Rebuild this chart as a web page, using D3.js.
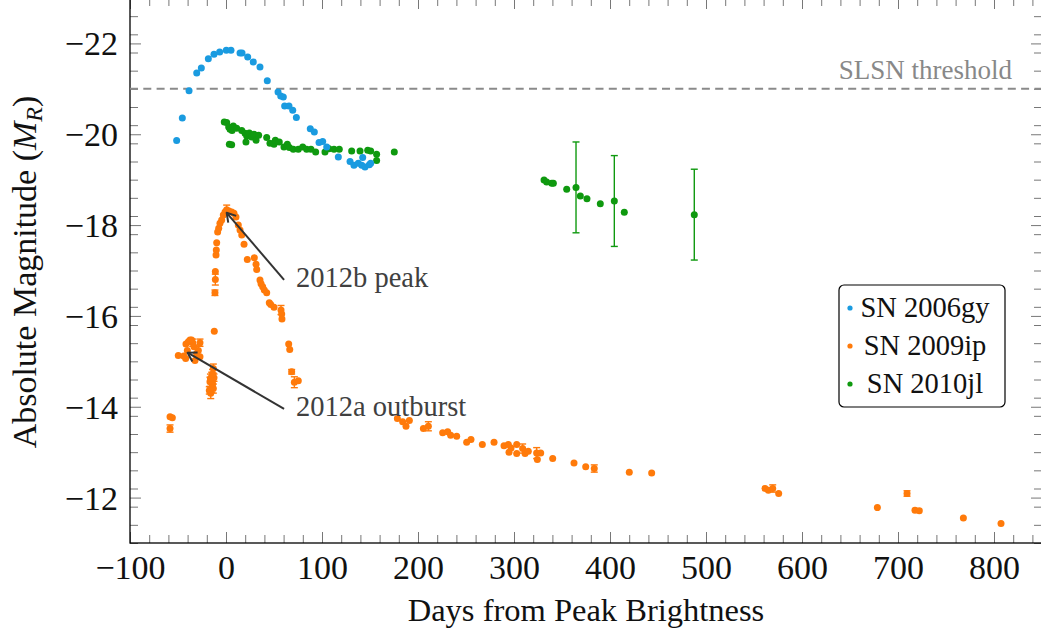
<!DOCTYPE html>
<html>
<head>
<meta charset="utf-8">
<script src="https://cdn.jsdelivr.net/npm/d3@7"></script>
<style>
  html, body { margin: 0; padding: 0; background: #fff; }
  svg { display: block; font-family: "Liberation Serif", serif; }
</style>
</head>
<body>
<svg id="chart" width="1041" height="634"></svg>
<script>
// SN 2006gy light curve (days from peak, absolute R magnitude)
const gyDays = [-51.4, -45.5, -38.5, -30.5, -25.7, -18.4, -12.5, -6.6, 0.3, 5.2, 14.6, 16.7, 22.6, 28.4, 35.4,
  43.0, 54.2, 57.0, 59.7, 61.1, 65.6, 69.5, 73.3, 87.8, 92.0, 96.9, 100.7, 104.9, 117.0, 129.2, 133.3,
  137.8, 141.4, 142.4, 144.8, 149.3, 150.7];
const gyMag = [-19.86, -20.36, -20.96, -21.35, -21.46, -21.66, -21.76, -21.81, -21.85, -21.85, -21.79, -21.79,
  -21.70, -21.59, -21.48, -21.18, -20.93, -20.84, -20.82, -20.62, -20.62, -20.53, -20.37, -20.12, -20.05,
  -19.82, -19.84, -19.72, -19.50, -19.40, -19.32, -19.36, -19.32, -19.49, -19.28, -19.33, -19.36];

// SN 2009ip light curve, with 1-sigma errors (0 = no bar drawn)
const ipDays = [-58.3, -55.9, -58.3,
  -49.7, -42.0, -41.7, -39.2, -35.8, -34.7, -40.3, -32.3, -28.8, -27.1, -30.6, -27.1, -33.3, -37.5, -44.0,
  -13.2, -14.9, -12.5, -16.7, -13.9, -14.9, -17.4, -15.9, -13.2, -16.2, -14.0,
  -12.2, -11.5, -11.1, -11.1, -10.4, -10.1, -9.7, -8.7, -7.6, -6.3, -4.5, -2.8, -1.0, 0.7, 3.1, 5.9, 8.3,
  10.4, 12.8, 14.6, 16.4, 18.8, 22.2, 29.5, 31.3, 32.0, 35.4, 36.5, 38.2, 39.9, 42.4, 45.1, 46.6, 50.0,
  57.3, 58.0, 58.3, 65.3, 66.4, 68.4, 71.2, 75.3,
  178.5, 184.0, 187.5, 191.0, 205.6, 210.8, 225.7, 230.9, 234.0, 240.3, 250.7, 255.2, 267.0, 279.2, 289.6,
  294.1, 296.9, 294.8, 302.8, 302.8, 309.0, 311.5, 314.9, 323.6, 327.8, 324.3, 340.3, 362.5, 374.7, 383.6,
  420.1, 443.4, 561.5, 565.0, 569.5, 575.7, 678.5, 709.4, 717.7, 722.2, 768.1, 807.3];
const ipMag = [-13.78, -13.76, -13.52,
  -15.13, -15.06, -15.38, -15.43, -15.47, -15.41, -15.24, -15.02, -15.24, -15.41, -15.17, -15.10, -15.32, -15.47, -15.12,
  -14.84, -14.66, -14.64, -14.55, -14.50, -14.42, -14.36, -14.30, -14.40, -14.62, -14.72,
  -15.66, -16.51, -16.80, -16.98, -17.34, -17.45, -17.61, -17.85, -17.93, -18.04, -18.11, -18.22, -18.29,
  -18.34, -18.31, -18.29, -18.26, -18.18, -18.00, -17.89, -17.78, -17.58, -17.24, -17.28, -17.14, -17.02,
  -16.79, -16.71, -16.64, -16.57, -16.51, -16.29, -16.25, -16.19, -16.13, -16.04, -15.93, -15.38, -15.26,
  -14.77, -14.54, -14.57,
  -13.74, -13.67, -13.57, -13.70, -13.52, -13.57, -13.43, -13.45, -13.37, -13.35, -13.22, -13.28, -13.17,
  -13.22, -13.14, -13.17, -13.09, -13.00, -13.17, -12.97, -13.08, -12.97, -13.02, -12.98, -12.98, -12.84,
  -12.86, -12.76, -12.68, -12.64, -12.56, -12.54, -12.20, -12.16, -12.20, -12.09, -11.78, -12.09, -11.72,
  -11.71, -11.55, -11.43];
const ipErr = [0, 0, 0.08,
  0, 0, 0, 0, 0, 0.08, 0, 0, 0.1, 0.08, 0, 0, 0, 0, 0,
  0.1, 0.1, 0.08, 0.1, 0.1, 0.1, 0.08, 0.12, 0.1, 0.1, 0.1,
  0, 0.06, 0.12, 0, 0, 0, 0, 0, 0, 0, 0, 0, 0, 0.1, 0, 0, 0, 0, 0, 0, 0, 0, 0, 0, 0, 0, 0, 0, 0, 0, 0, 0,
  0, 0, 0.1, 0, 0, 0, 0, 0.05, 0.12, 0,
  0, 0, 0, 0, 0, 0.1, 0, 0, 0, 0, 0, 0, 0, 0, 0, 0, 0, 0, 0, 0, 0.1, 0, 0, 0.12, 0, 0, 0, 0, 0, 0.08,
  0, 0, 0, 0, 0.08, 0, 0, 0.06, 0, 0, 0, 0];

// SN 2010jl light curve, with errors on the late epochs
const jlDays = [-1.8, 0.7, 2.8, 4.2, 7.6, 6.3, 11.1, 16.4, 19.8, 21.6, 24.3, 26.8, 29.2, 31.3, 34.0, 3.5, 5.9,
  20.8, 42.4, 45.8, 50.0, 51.4, 55.5, 60.4, 63.9, 66.0, 70.1, 75.3, 79.9, 84.0, 88.5, 93.4, 103.1, 107.3,
  112.5, 118.0, 130.9, 139.6, 147.6, 150.7, 156.9, 156.9, 175.3,
  331.3, 334.0, 339.3, 341.0, 354.9, 364.6, 369.1, 376.0, 389.9, 404.5, 414.9, 487.8];
const jlMag = [-20.27, -20.26, -20.16, -20.11, -20.18, -20.08, -20.13, -20.08, -20.02, -19.96, -20.03, -19.94,
  -20.00, -19.87, -19.98, -19.78, -19.77, -19.83, -19.93, -19.80, -19.78, -19.87, -19.83, -19.72, -19.78,
  -19.71, -19.67, -19.67, -19.72, -19.67, -19.67, -19.61, -19.61, -19.68, -19.67, -19.67, -19.63, -19.63,
  -19.65, -19.63, -19.56, -19.42, -19.61,
  -18.99, -18.95, -18.92, -18.92, -18.79, -18.83, -18.64, -18.58, -18.47, -18.53, -18.28, -18.23];
const jlErr = [0, 0, 0, 0, 0, 0, 0, 0, 0, 0, 0, 0, 0, 0, 0, 0, 0, 0, 0, 0, 0, 0, 0, 0, 0, 0, 0, 0, 0, 0, 0,
  0, 0, 0, 0, 0, 0, 0, 0, 0, 0, 0, 0,
  0, 0, 0, 0, 0, 1.0, 0, 0, 0, 1.0, 0, 1.0];

// Series names, colours and axis ticks
const seriesNames = ["SN 2006gy", "SN 2009ip", "SN 2010jl"];
const seriesColors = ["#1a9be0", "#ff7a0a", "#0f990f"];
const xMajorTicks = [-100, 0, 100, 200, 300, 400, 500, 600, 700, 800];
const yMajorTicks = [-22, -20, -18, -16, -14, -12];
const slslThreshold = -21;
const thresholdLabel = "SLSN threshold";
const annotations = [
  { text: "2012b peak", day: 0.7, mag: -18.27, textDay: 73, textMag: -16.64 },
  { text: "2012a outburst", day: -40, mag: -15.19, textDay: 73, textMag: -13.8 }
];

const svg = d3.select("#chart");
const x = d3.scaleLinear().domain([-100, 850]).range([130, 1042]);
const y = d3.scaleLinear().domain([-23, -11]).range([-2, 543]);
const [x0, x1] = x.range();
const [y0, y1] = y.range();

const fmt = d3.format("d");
const xMinor = d3.range(-100, 851, 20).filter(v => v % 100 !== 0);
const yMinor = d3.range(-23, -10.99, 0.4).map(v => +v.toFixed(1)).filter(v => Math.abs(v % 2) > 1e-6);

// Grey-ish inward ticks on all four sides
function styleTicks(g) {
  g.select(".domain").remove();
  g.selectAll(".tick line").attr("stroke", "#777").attr("stroke-width", 1);
}
// bottom
svg.append("g").attr("transform", `translate(0,${y1})`)
  .call(d3.axisBottom(x).tickValues(xMinor).tickSize(-8).tickFormat(""))
  .call(styleTicks);
const xAx = svg.append("g").attr("transform", `translate(0,${y1})`)
  .call(d3.axisBottom(x).tickValues(xMajorTicks).tickSize(-11).tickFormat(fmt))
  .call(styleTicks);
xAx.selectAll("text").attr("y", 36).attr("dy", null)
  .attr("font-size", 34).attr("fill", "#111").attr("font-family", "Liberation Serif");
// top
svg.append("g").attr("transform", `translate(0,${y0})`)
  .call(d3.axisTop(x).tickValues(xMinor).tickSize(-8).tickFormat(""))
  .call(styleTicks);
svg.append("g").attr("transform", `translate(0,${y0})`)
  .call(d3.axisTop(x).tickValues(xMajorTicks).tickSize(-11).tickFormat(""))
  .call(styleTicks);
// left
svg.append("g").attr("transform", `translate(${x0},0)`)
  .call(d3.axisLeft(y).tickValues(yMinor).tickSize(-8).tickFormat(""))
  .call(styleTicks);
const yAx = svg.append("g").attr("transform", `translate(${x0},0)`)
  .call(d3.axisLeft(y).tickValues(yMajorTicks).tickSize(-11).tickFormat(fmt))
  .call(styleTicks);
yAx.selectAll("text").attr("x", -12).attr("dy", "0.34em")
  .attr("font-size", 34).attr("fill", "#111").attr("font-family", "Liberation Serif");
// right
svg.append("g").attr("transform", `translate(${x1},0)`)
  .call(d3.axisRight(y).tickValues(yMinor).tickSize(-8).tickFormat(""))
  .call(styleTicks);
svg.append("g").attr("transform", `translate(${x1},0)`)
  .call(d3.axisRight(y).tickValues(yMajorTicks).tickSize(-11).tickFormat(""))
  .call(styleTicks);

// frame
svg.append("rect").attr("x", x0).attr("y", y0).attr("width", x1 - x0).attr("height", y1 - y0)
  .attr("fill", "none").attr("stroke", "#000").attr("stroke-width", 1.3);

// axis titles
svg.append("text").attr("x", 586).attr("y", 621).attr("text-anchor", "middle")
  .attr("font-size", 32.5).attr("fill", "#111").text("Days from Peak Brightness");
const yt = svg.append("text").attr("transform", "translate(36,272) rotate(-90)")
  .attr("text-anchor", "middle").attr("font-size", 34).attr("fill", "#111");
yt.append("tspan").text("Absolute Magnitude (");
yt.append("tspan").attr("font-style", "italic").text("M");
yt.append("tspan").attr("font-style", "italic").attr("font-size", 24).attr("dy", 6).text("R");
yt.append("tspan").attr("dy", -6).text(")");

// SLSN threshold
svg.append("line").attr("x1", x0).attr("x2", x1).attr("y1", y(slslThreshold)).attr("y2", y(slslThreshold))
  .attr("stroke", "#8a8a8a").attr("stroke-width", 2).attr("stroke-dasharray", "8,5.3");
svg.append("text").attr("x", 1012).attr("y", y(slslThreshold) - 10).attr("text-anchor", "end")
  .attr("font-size", 27).attr("fill", "#888").text(thresholdLabel);

const plot = svg.append("g");

function drawSeries(days, mags, errs, color) {
  const pts = days.map((d, i) => ({ d, m: mags[i], e: errs ? errs[i] : 0 }));
  const eb = pts.filter(p => p.e > 0);
  const g = plot.append("g");
  const bars = g.selectAll("g.err").data(eb).join("g").attr("class", "err")
    .attr("stroke", color).attr("stroke-width", 1.4);
  bars.append("line").attr("x1", p => x(p.d)).attr("x2", p => x(p.d))
    .attr("y1", p => y(p.m - p.e)).attr("y2", p => y(p.m + p.e));
  bars.append("line").attr("x1", p => x(p.d) - 3.5).attr("x2", p => x(p.d) + 3.5)
    .attr("y1", p => y(p.m - p.e)).attr("y2", p => y(p.m - p.e));
  bars.append("line").attr("x1", p => x(p.d) - 3.5).attr("x2", p => x(p.d) + 3.5)
    .attr("y1", p => y(p.m + p.e)).attr("y2", p => y(p.m + p.e));
  g.selectAll("circle").data(pts).join("circle")
    .attr("cx", p => x(p.d)).attr("cy", p => y(p.m)).attr("r", 3.5).attr("fill", color);
}
drawSeries(jlDays, jlMag, jlErr, seriesColors[2]);
drawSeries(gyDays, gyMag, null, seriesColors[0]);
drawSeries(ipDays, ipMag, ipErr, seriesColors[1]);

// annotations with open arrowheads
annotations.forEach(a => {
  const tx = x(a.textDay), ty = y(a.textMag);
  const sx = tx - 12, sy = ty - 7;
  const ex = x(a.day), ey = y(a.mag);
  const ang = Math.atan2(ey - sy, ex - sx);
  const L = 10, w = 0.55;
  svg.append("line").attr("x1", sx).attr("y1", sy).attr("x2", ex).attr("y2", ey)
    .attr("stroke", "#333").attr("stroke-width", 2);
  svg.append("path")
    .attr("d", `M${ex - L * Math.cos(ang - w)},${ey - L * Math.sin(ang - w)} L${ex},${ey} L${ex - L * Math.cos(ang + w)},${ey - L * Math.sin(ang + w)}`)
    .attr("fill", "none").attr("stroke", "#333").attr("stroke-width", 2).attr("stroke-linejoin", "round");
  svg.append("text").attr("x", tx).attr("y", ty).attr("font-size", 28.5).attr("fill", "#404040").text(a.text);
});

// legend
const lg = svg.append("g");
lg.append("rect").attr("x", 839).attr("y", 285).attr("width", 166).attr("height", 122).attr("rx", 5)
  .attr("fill", "#fff").attr("stroke", "#000").attr("stroke-width", 1.2);
seriesNames.forEach((n, i) => {
  const cy = 308 + i * 38;
  lg.append("circle").attr("cx", 850).attr("cy", cy).attr("r", 2.6).attr("fill", seriesColors[i]);
  lg.append("text").attr("x", 925).attr("y", cy + 9).attr("text-anchor", "middle")
    .attr("font-size", 28.5).attr("fill", "#111").text(n);
});
</script>
</body>
</html>
